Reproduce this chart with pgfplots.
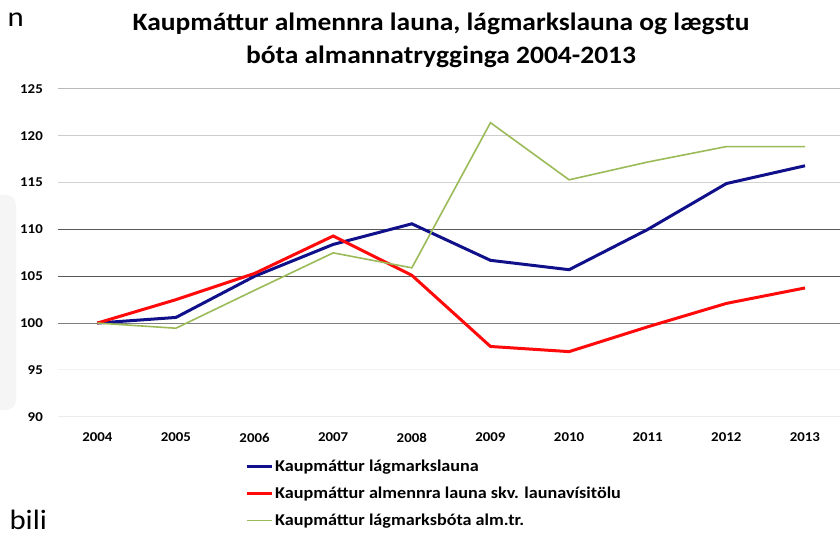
\documentclass[border=0pt]{standalone}
\usepackage{fontspec}
\setmainfont{Carlito}[FakeStretch=1.1]
\usepackage{pgfplots}
\pgfplotsset{compat=1.18}
\definecolor{cblue}{HTML}{10108A}
\definecolor{cred}{HTML}{FF0A0A}
\definecolor{cgreen}{HTML}{9BBB59}
\begin{document}
\begin{tikzpicture}[x=1pt,y=1pt]
\path[use as bounding box] (0,0) rectangle (840,537);
\clip (0,0) rectangle (840,537);
\fill[white] (0,0) rectangle (840,537);
\fill[gray!8, rounded corners=10pt] (-30,127) rectangle (16,342);
\node[anchor=west, font=\fontsize{28}{30}\selectfont] at (4,517) {n};
\node[anchor=west, font=\fontsize{28}{30}\selectfont] at (6,17) {bili};
\node[align=center, font=\bfseries\fontsize{25}{33}\selectfont] at (441,497) {Kaupmáttur almennra launa, lágmarkslauna og lægstu\\bóta almannatrygginga 2004-2013};
\begin{axis}[
  at={(58pt,120.3pt)}, anchor=south west,
  scale only axis, width=782pt, height=327.7pt,
  xmin=2003.5, xmax=2013.445, ymin=90, ymax=125,
  xtick={2004,...,2013}, ytick={90,95,...,125},
  xticklabel style={/pgf/number format/1000 sep={}},
  /pgf/number format/assume math mode=true,
  ticklabel style={font=\bfseries\fontsize{13.5}{14}\selectfont, inner sep=0pt},
  yticklabel style={anchor=east, xshift=-15pt},
  xticklabel style={anchor=north, yshift=-16pt},
  axis line style={draw=none}, major tick length=0pt,
  clip=false,
  legend style={at={(0.239,-0.125)}, anchor=north west, draw=none, fill=none,
    font=\bfseries\fontsize{16.5}{18}\selectfont, row sep=10pt, inner sep=0pt},
  legend cell align=left,
  legend image code/.code={\draw[#1] (0pt,0pt) -- (25pt,0pt);},
]
\draw[gray!55, line width=1pt] (axis cs:2003.5,125) -- (axis cs:2013.445,125);
\draw[gray!40, line width=1pt] (axis cs:2003.5,120) -- (axis cs:2013.445,120);
\draw[gray!35, line width=1pt] (axis cs:2003.5,115) -- (axis cs:2013.445,115);
\draw[black!65, line width=1pt] (axis cs:2003.5,110) -- (axis cs:2013.445,110);
\draw[black!65, line width=1pt] (axis cs:2003.5,105) -- (axis cs:2013.445,105);
\draw[black!50, line width=1pt] (axis cs:2003.5,100) -- (axis cs:2013.445,100);
\draw[gray!10, line width=1pt] (axis cs:2003.5,95) -- (axis cs:2013.445,95);
\draw[gray!15, line width=1pt] (axis cs:2003.5,90) -- (axis cs:2013.445,90);
\addplot[cblue, line width=3pt] coordinates {(2004,100) (2005,100.6) (2006,105.0) (2007,108.4) (2008,110.6) (2009,106.7) (2010,105.7) (2011,110.0) (2012,114.9) (2013,116.8)};
\addlegendentry{Kaupmáttur lágmarkslauna}
\addplot[cred, line width=3pt] coordinates {(2004,100) (2005,102.5) (2006,105.3) (2007,109.3) (2008,105.1) (2009,97.5) (2010,96.95) (2011,99.6) (2012,102.1) (2013,103.75)};
\addlegendentry{Kaupmáttur almennra launa skv. launavísitölu}
\addplot[cgreen, line width=1.6pt] coordinates {(2004,100) (2005,99.45) (2006,103.5) (2007,107.5) (2008,105.9) (2009,121.4) (2010,115.3) (2011,117.2) (2012,118.85) (2013,118.85)};
\addlegendentry{Kaupmáttur lágmarksbóta alm.tr.}
\end{axis}
\end{tikzpicture}
\end{document}
